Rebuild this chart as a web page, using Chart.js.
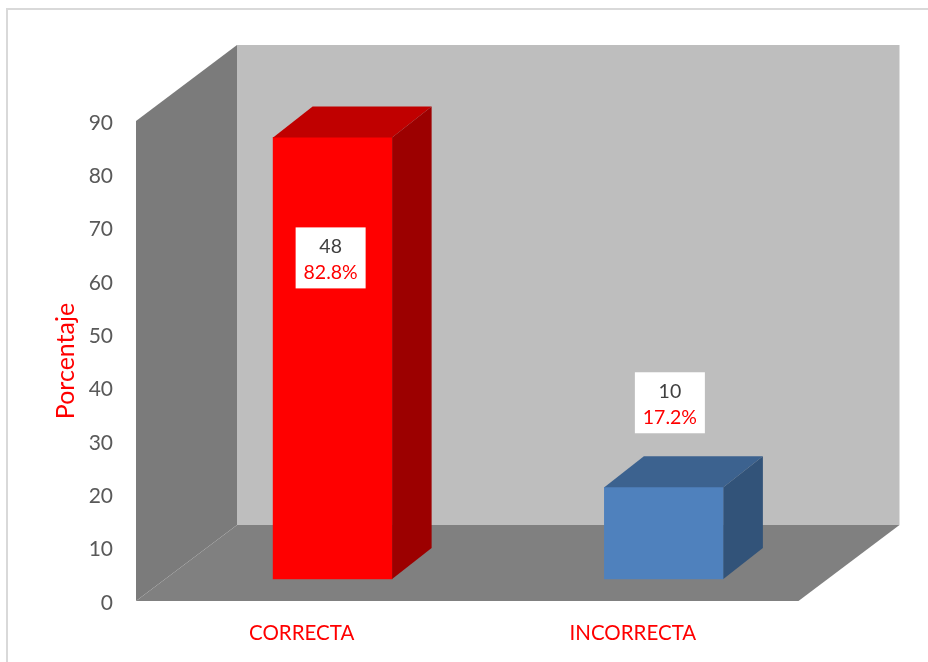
<!DOCTYPE html>
<html>
<head>
<meta charset="utf-8">
<style>
  html, body { margin: 0; padding: 0; background: #fff; }
  #box { position: relative; width: 928px; height: 662px; }
</style>
<script src="https://cdn.jsdelivr.net/npm/chart.js@4/dist/chart.umd.min.js"></script>
</head>
<body>
<div id="box"><canvas id="grafico" width="928" height="662"></canvas></div>
<script>
const categorias = ['CORRECTA', 'INCORRECTA'];
const porcentajes = [82.8, 17.2];
const cantidades = [48, 10];
const yTicks = [0, 10, 20, 30, 40, 50, 60, 70, 80, 90];

const coloresFrente = ['#ff0000', '#4f81bd'];
const coloresTapa = ['#c00000', '#3c628f'];
const coloresLado = ['#9c0000', '#325379'];

const FUENTE = 'Lato, Carlito, sans-serif';

// depth of the box walls, of each column, and how far columns sit into the floor
const fondo = { dx: 101, dy: 76 };
const prof = { dx: 39.5, dy: 31 };
const hueco = { dx: 31, dy: 22 };

// white label boxes, relative to the column's front top centre
const etiquetaOffset = [{ dx: -2, dy: 90 }, { dx: 6, dy: -115 }];

function poly(ctx, color, pts) {
    ctx.fillStyle = color;
    ctx.beginPath();
    pts.forEach((p, i) => i ? ctx.lineTo(p[0], p[1]) : ctx.moveTo(p[0], p[1]));
    ctx.closePath();
    ctx.fill();
}

const cubo3d = {
    id: 'cubo3d',
    afterLayout(chart) {
        // value labels of this font sit a little high, nudge them down
        const esc = chart.scales.y;
        if (esc._bajado) return;
        esc._bajado = true;
        const original = esc.drawLabels;
        esc.drawLabels = function (area) {
            chart.ctx.save();
            chart.ctx.translate(0, 2);
            original.call(this, area);
            chart.ctx.restore();
        };
    },
    beforeDraw(chart) {
        const ctx = chart.ctx;
        // outer frame, only top and left fall inside the page
        ctx.save();
        ctx.fillStyle = '#d9d9d9';
        ctx.fillRect(6, 8, 922, 2);
        ctx.fillRect(6, 8, 2, 654);
        ctx.restore();
    },
    beforeDatasetsDraw(chart) {
        const { ctx, scales: { x, y } } = chart;
        const l = x.left, r = x.right;
        const t = y.getPixelForValue(90), b = y.getPixelForValue(0);
        const { dx, dy } = fondo;
        poly(ctx, '#bebebe', [[l + dx, t - dy], [r + dx, t - dy], [r + dx, b - dy], [l + dx, b - dy]]);
        poly(ctx, '#7b7b7b', [[l, t], [l + dx, t - dy], [l + dx, b - dy], [l, b]]);
        poly(ctx, '#808080', [[l, b], [l + dx, b - dy], [r + dx, b - dy], [r, b]]);
        ctx.save();
        ctx.translate(hueco.dx, -hueco.dy);
    },
    afterDatasetsDraw(chart) {
        const ctx = chart.ctx;
        const { dx, dy } = prof;
        chart.getDatasetMeta(0).data.forEach((bar, i) => {
            const { x, y, base, width } = bar.getProps(['x', 'y', 'base', 'width'], true);
            const izq = x - width / 2, der = x + width / 2;
            poly(ctx, coloresTapa[i], [[izq, y], [izq + dx, y - dy], [der + dx, y - dy], [der, y]]);
            poly(ctx, coloresLado[i], [[der, y], [der + dx, y - dy], [der + dx, base - dy], [der, base]]);
        });
        ctx.restore();

        chart.getDatasetMeta(0).data.forEach((bar, i) => {
            const { x, y } = bar.getProps(['x', 'y'], true);
            const cx = x + hueco.dx + etiquetaOffset[i].dx;
            const top = y - hueco.dy + etiquetaOffset[i].dy;
            ctx.save();
            ctx.fillStyle = '#fff';
            ctx.fillRect(cx - 35, top, 70, 61);
            ctx.textAlign = 'center';
            ctx.textBaseline = 'middle';
            ctx.font = '19.5px ' + FUENTE;
            ctx.fillStyle = '#404040';
            ctx.fillText(String(cantidades[i]), cx, top + 19);
            ctx.fillStyle = '#ff0000';
            ctx.fillText(porcentajes[i].toFixed(1) + '%', cx, top + 45);
            ctx.restore();
        });
    }
};

new Chart(document.getElementById('grafico'), {
    type: 'bar',
    data: {
        labels: categorias,
        datasets: [{
            data: porcentajes,
            backgroundColor: coloresFrente,
            barThickness: 119,
            clip: false
        }]
    },
    options: {
        responsive: false,
        animation: false,
        layout: { padding: { left: 51, top: 121, right: 129.5, bottom: 0 } },
        plugins: { legend: { display: false }, tooltip: { enabled: false } },
        scales: {
            x: {
                grid: { display: false, drawTicks: false },
                border: { display: false },
                afterFit: s => { s.height = 61; },
                ticks: { color: '#ff0000', padding: 20, maxRotation: 0, font: { family: FUENTE, size: 20.5 } }
            },
            y: {
                min: 0,
                max: 90,
                grid: { display: false, drawTicks: false },
                border: { display: false },
                afterFit: s => { s.width = 85; },
                afterBuildTicks: s => { s.ticks = yTicks.map(v => ({ value: v })); },
                title: {
                    display: true,
                    text: 'Porcentaje',
                    color: '#ff0000',
                    padding: 0,
                    font: { family: FUENTE, size: 25 }
                },
                ticks: { color: '#595959', padding: 23, font: { family: FUENTE, size: 21 } }
            }
        }
    },
    plugins: [cubo3d]
});
</script>
</body>
</html>
